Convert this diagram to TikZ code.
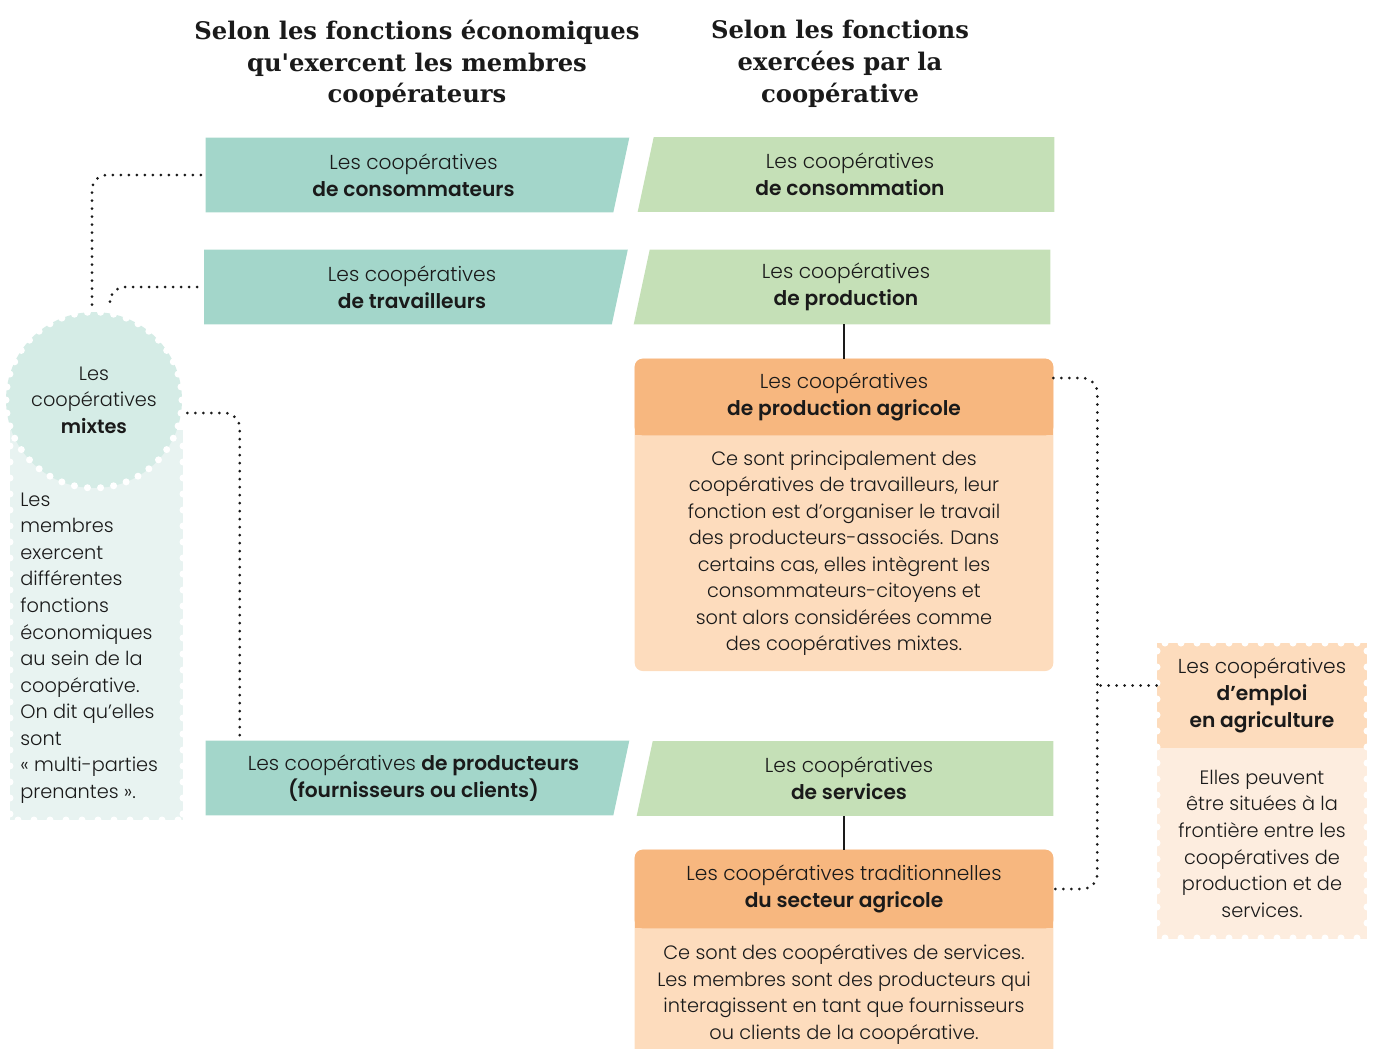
\documentclass[tikz,border=0pt]{standalone}
\usepackage{fontspec}
\setmainfont{Poppins}[UprightFont=* Light]
\newfontfamily\titlefont{DejaVu Serif}
\usetikzlibrary{positioning}

\definecolor{ink}{HTML}{1A1A1A}
\definecolor{coopteal}{HTML}{A3D6CA}
\definecolor{coopgreen}{HTML}{C5E0B7}
\definecolor{orfonce}{HTML}{F7B77F}
\definecolor{orclair}{HTML}{FDDCBD}
\definecolor{orpale}{HTML}{FDEDDF}
\definecolor{mixcercle}{HTML}{D5ECE6}
\definecolor{mixfond}{HTML}{E8F3F1}

\pgfdeclarelayer{bg}
\pgfsetlayers{bg,main}

\tikzset{
  txt/.style={align=center, text=ink, inner sep=0pt,
              font=\fontsize{11}{15.1}\selectfont},
  entete/.style={txt, font=\fontsize{11.5}{15.3}\selectfont},
  titre/.style={align=center, text=ink, inner sep=0pt,
              font=\titlefont\bfseries\fontsize{13.8}{18.1}\selectfont},
  membre/.style={entete, minimum width=8.3cm, minimum height=1.48cm},
  fonction/.style={entete, minimum width=8.16cm, minimum height=1.48cm},
  bloc/.style={txt, minimum width=8.36cm},
  pointille/.style={draw=ink, line width=0.06cm, line cap=round,
              dash pattern=on 0pt off 0.16cm, rounded corners=0.3cm},
  lien/.style={draw=ink, line width=0.6pt}
}

\begin{document}
\begin{tikzpicture}[x=0.02cm,y=-0.02cm]
\useasboundingbox (0,0) rectangle (1375,1048);
\clip (0,0) rectangle (1375,1048);

% titres
\node[titre] (tmembres) at (417,64) {Selon les fonctions économiques\\qu'exercent les membres\\coopérateurs};
\node[titre] (tfonctions) at (840,64) {Selon les fonctions\\exercées par la\\coopérative};

% colonne des membres
\node[membre] (cconso) at (413.5,175) {Les coopératives\\\textbf{de consommateurs}};
\node[membre] (ctrav) at (412,287) {Les coopératives\\\textbf{de travailleurs}};
\node[membre] (cprod) at (413.5,778) {Les coopératives \textbf{de producteurs}\\\textbf{(fournisseurs ou clients)}};

% colonne des fonctions
\node[fonction] (fconso) at (850,174.5) {Les coopératives\\\textbf{de consommation}};
\node[fonction] (fprod) at (846,287) {Les coopératives\\\textbf{de production}};
\node[fonction] (fserv) at (849,778.5) {Les coopératives\\\textbf{de services}};

% blocs agricoles
\node[bloc, entete, minimum height=1.52cm] (agrit) at (844,397) {Les coopératives\\\textbf{de production agricole}};
\node[bloc, minimum height=4.7cm, below=0pt of agrit] (agrib)
  {Ce sont principalement des\\coopératives de travailleurs, leur\\fonction est d’organiser le travail\\des producteurs-associés. Dans\\certains cas, elles intègrent les\\consommateurs-citoyens et\\sont alors considérées comme\\des coopératives mixtes.};
\node[bloc, entete, minimum height=1.56cm] (tradt) at (844,889) {Les coopératives traditionnelles\\\textbf{du secteur agricole}};
\node[bloc, minimum height=2.64cm, below=0pt of tradt] (tradb)
  {Ce sont des coopératives de services.\\Les membres sont des producteurs qui\\interagissent en tant que fournisseurs\\ou clients de la coopérative.};

% emploi
\node[entete, minimum width=4.2cm, minimum height=2.1cm] (empt) at (1262,695.5) {Les coopératives\\\textbf{d’emploi}\\\textbf{en agriculture}};
\node[txt, minimum width=4.2cm, minimum height=3.8cm, below=0pt of empt] (empb)
  {Elles peuvent\\être situées à la\\frontière entre les\\coopératives de\\production et de\\services.};

% mixtes
\node[txt, circle, minimum size=3.52cm] (mix) at (94,400) {Les\\coopératives\\\textbf{mixtes}};
\node[txt, align=left, anchor=west] (mixtxt) at (20,648)
  {Les\\membres\\exercent\\différentes\\fonctions\\économiques\\au sein de la\\coopérative.\\On dit qu’elles\\sont\\«~multi-parties\\prenantes~».};

\begin{pgfonlayer}{bg}
  \foreach \n in {cconso,ctrav,cprod}
    \fill[coopteal] (\n.north west) -- ([xshift=0.16cm]\n.north east)
      -- ([xshift=-0.16cm]\n.south east) -- (\n.south west) -- cycle;
  \foreach \n in {fconso,fprod,fserv}
    \fill[coopgreen] ([xshift=0.16cm]\n.north west) -- (\n.north east)
      -- (\n.south east) -- ([xshift=-0.16cm]\n.south west) -- cycle;

  \fill[orclair, rounded corners=0.16cm] (agrit.north west) rectangle (agrib.south east);
  \fill[orfonce, rounded corners=0.16cm] (agrit.north west) rectangle (agrit.south east);
  \fill[orfonce] (agrit.west) rectangle (agrit.south east);
  \fill[orclair, rounded corners=0.16cm] (tradt.north west) rectangle (tradb.south east);
  \fill[orfonce, rounded corners=0.16cm] (tradt.north west) rectangle (tradt.south east);
  \fill[orfonce] (tradt.west) rectangle (tradt.south east);

  \fill[orpale] (empt.north west) rectangle (empb.south east);
  \fill[orclair] (empt.north west) rectangle (empt.south east);
  \foreach \x in {1165,1181,...,1360} {
    \fill[white] (\x,643) circle (0.07cm);
    \fill[white] (\x,938) circle (0.07cm);
  }
  \foreach \y in {651,667,...,932} {
    \fill[white] (1157,\y) circle (0.07cm);
    \fill[white] (1367,\y) circle (0.07cm);
  }

  \fill[mixfond] (10,430) rectangle (183,820);
  \foreach \y in {446,462,...,814} {
    \fill[white] (10,\y) circle (0.07cm);
    \fill[white] (183,\y) circle (0.07cm);
  }
  \foreach \x in {18,34,...,178}
    \fill[white] (\x,820) circle (0.07cm);
  \fill[mixcercle] (mix.center) circle (1.76cm);
  \foreach \i in {0,...,41}
    \fill[white] ([shift={(\i*360/42:1.76cm)}]mix.center) circle (0.07cm);
\end{pgfonlayer}

% liens
\draw[lien] (agrit.north) -- (agrit.north |- fprod.south);
\draw[lien] (tradt.north) -- (tradt.north |- fserv.south);

\draw[pointille] ([xshift=-0.04cm,yshift=0.14cm]mix.north) |- ([xshift=-0.06cm]cconso.west);
\draw[pointille] ([xshift=0.32cm,yshift=0.2cm]mix.north) |- ([xshift=-0.06cm]ctrav.west);
\draw[pointille] ([xshift=0.1cm,yshift=-0.26cm]mix.east) -| ([xshift=0.68cm]cprod.north west);

\coordinate (rail) at ([xshift=0.88cm,yshift=0.38cm]agrit.east);
\draw[pointille] ([yshift=0.38cm]agrit.east) -- (rail) |- (tradt.east);
\draw[pointille] ([yshift=0.2cm]empt.west) -- ([yshift=0.2cm]empt.west -| rail);
\end{tikzpicture}
\end{document}
